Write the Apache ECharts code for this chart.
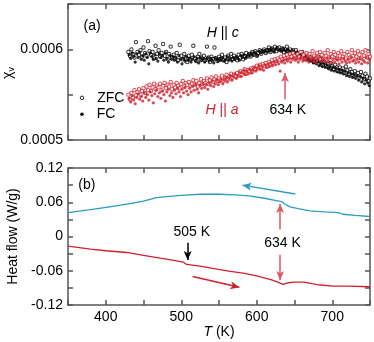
<!DOCTYPE html>
<html>
<head>
<meta charset="utf-8">
<script src="https://cdn.jsdelivr.net/npm/echarts@6/dist/echarts.min.js"></script>
<style>
  * { margin: 0; padding: 0; }
  #chart { width: 374px; height: 342px; background: #fff; }
</style>
</head>
<body>
<div id="chart"></div>
<script>
// (a) susceptibility. Temperatures (K) of the ZFC and FC sweeps
var tempZFC = [430,432,434,436,438,440,442,444,446,448,450,452,454,456,458,460,462,464,466,468,
  470,472,474,476,478,480,482,484,486,488,490,492,494,496,498,500,502,504,506,508,
  510,512,514,516,518,520,522,524,526,528,530,532,534,536,538,540,542,544,546,548,
  550,552,554,556,558,560,562,564,566,568,570,572,574,576,578,580,582,584,586,588,
  590,592,594,596,598,600,602,604,606,608,610,612,614,616,618,620,622,624,626,628,
  630,632,634,636,638,640,642,644,646,648,650,652,654,656,658,660,662,664,666,668,
  670,672,674,676,678,680,682,684,686,688,690,692,694,696,698,700,702,704,706,708,
  710,712,714,716,718,720,722,724,726,728,730,732,734,736,738,740,742,744,746,748,750];
var tempFC = [431,433,435,437,439,441,443,445,447,449,451,453,455,457,459,461,463,465,467,469,
  471,473,475,477,479,481,483,485,487,489,491,493,495,497,499,501,503,505,507,509,
  511,513,515,517,519,521,523,525,527,529,531,533,535,537,539,541,543,545,547,549,
  551,553,555,557,559,561,563,565,567,569,571,573,575,577,579,581,583,585,587,589,
  591,593,595,597,599,601,603,605,607,609,611,613,615,617,619,621,623,625,627,629,
  631,633,635,637,639,641,643,645,647,649,651,653,655,657,659,661,663,665,667,669,
  671,673,675,677,679,681,683,685,687,689,691,693,695,697,699,701,703,705,707,709,
  711,713,715,717,719,721,723,725,727,729,731,733,735,737,739,741,743,745,747,749];

// chi_v in units of 1e-4
var chiC_zfc = [5.97,5.93,6.00,5.95,5.91,6.08,5.97,5.94,5.99,5.92, 6.02,5.96,5.93,6.09,5.98,5.94,5.97,5.90,6.04,5.95,
  5.99,5.92,5.96,6.06,5.93,5.97,5.89,5.95,6.03,5.91, 5.94,5.90,5.96,5.88,6.05,5.93,5.89,5.95,5.91,5.86,
  5.93,5.89,5.94,6.04,5.90,5.87,5.92,5.95,5.88,5.91, 5.93,5.88,6.03,5.91,5.86,5.92,5.89,6.02,5.90,5.87,
  5.92,5.89,5.94,5.88,5.91,5.86,5.93,5.90,5.95,5.89, 5.93,5.90,5.88,5.94,5.91,5.95,5.89,5.93,5.96,5.92,
  5.95,5.92,5.97,5.94,5.98,5.93,5.96,5.99,5.95,5.98, 6.00,5.96,5.99,6.02,5.97,6.01,5.99,6.03,5.98,6.01,
  6.02,5.99,6.01,5.97,6.00,6.03,5.98,6.00,5.96,5.99, 5.97,5.99,5.94,5.96,5.92,5.97,5.93,5.90,5.95,5.91,
  5.92,5.88,5.90,5.86,5.91,5.87,5.84,5.89,5.85,5.83, 5.86,5.82,5.84,5.79,5.85,5.81,5.78,5.83,5.80,5.76,
  5.80,5.76,5.79,5.74,5.81,5.77,5.73,5.78,5.75,5.71, 5.76,5.72,5.74,5.69,5.75,5.71,5.67,5.73,5.70,5.65, 5.68];
var chiC_fc = [5.94,5.90,5.96,5.92,5.86,5.95,5.91,5.97,5.89,5.93, 5.88,5.95,5.91,5.84,5.96,5.92,5.89,5.94,5.90,5.87,
  5.95,5.91,5.93,5.88,5.96,5.90,5.86,5.93,5.89,5.92, 5.88,5.91,5.86,5.93,5.89,5.84,5.90,5.87,5.92,5.88,
  5.90,5.86,5.89,5.92,5.87,5.90,5.85,5.91,5.88,5.90, 5.86,5.89,5.91,5.87,5.90,5.88,5.85,5.91,5.89,5.87,
  5.90,5.88,5.91,5.87,5.89,5.92,5.88,5.90,5.87,5.91, 5.89,5.92,5.90,5.88,5.93,5.91,5.94,5.90,5.92,5.95,
  5.93,5.96,5.94,5.97,5.95,5.93,5.98,5.96,5.99,5.97, 5.99,5.97,6.00,5.98,6.01,5.99,5.97,6.00,6.02,5.99,
  6.00,5.98,6.01,5.99,5.97,6.00,5.98,5.96,5.99,5.97, 5.95,5.97,5.93,5.95,5.91,5.94,5.90,5.92,5.88,5.91,
  5.87,5.90,5.85,5.88,5.84,5.86,5.82,5.85,5.81,5.84, 5.80,5.83,5.79,5.81,5.77,5.80,5.76,5.79,5.75,5.78,
  5.74,5.77,5.73,5.76,5.71,5.74,5.70,5.73,5.69,5.72, 5.68,5.71,5.66,5.70,5.64,5.68,5.62,5.66,5.63,5.60];
var chiA_zfc = [5.50,5.45,5.52,5.47,5.55,5.49,5.53,5.56,5.50,5.54, 5.57,5.52,5.59,5.55,5.61,5.54,5.58,5.62,5.56,5.60,
  5.58,5.62,5.55,5.60,5.63,5.57,5.61,5.59,5.64,5.56, 5.61,5.58,5.63,5.60,5.57,5.62,5.65,5.59,5.63,5.61,
  5.64,5.60,5.62,5.66,5.61,5.65,5.59,5.63,5.67,5.62, 5.65,5.63,5.68,5.62,5.66,5.69,5.64,5.67,5.70,5.65,
  5.68,5.66,5.71,5.65,5.69,5.72,5.67,5.70,5.73,5.69, 5.72,5.70,5.74,5.71,5.76,5.72,5.75,5.78,5.73,5.77,
  5.76,5.79,5.75,5.80,5.78,5.82,5.79,5.83,5.80,5.84, 5.82,5.85,5.81,5.86,5.84,5.88,5.85,5.89,5.87,5.90,
  5.88,5.92,5.89,5.93,5.90,5.94,5.91,5.95,5.92,5.96, 5.93,5.90,5.95,5.92,5.97,5.91,5.94,5.89,5.96,5.93,
  5.95,5.91,5.98,5.93,5.90,5.96,5.92,5.97,5.94,5.90, 5.96,5.93,5.99,5.91,5.95,5.92,5.97,5.94,5.90,5.96,
  5.93,5.98,5.92,5.95,5.90,5.97,5.94,5.91,5.99,5.93, 5.96,5.92,5.98,5.94,5.90,5.97,5.93,5.99,5.91,5.95, 5.92];
var chiA_fc = [5.46,5.42,5.49,5.44,5.40,5.47,5.51,5.45,5.48,5.43, 5.52,5.47,5.50,5.44,5.53,5.49,5.41,5.51,5.55,5.48,
  5.52,5.46,5.54,5.50,5.43,5.53,5.56,5.49,5.52,5.47, 5.55,5.51,5.57,5.53,5.48,5.56,5.52,5.58,5.54,5.50,
  5.57,5.53,5.59,5.55,5.61,5.56,5.52,5.60,5.57,5.62, 5.58,5.61,5.56,5.63,5.60,5.65,5.59,5.62,5.66,5.61,
  5.64,5.67,5.62,5.66,5.69,5.64,5.68,5.71,5.66,5.70, 5.73,5.68,5.71,5.75,5.70,5.74,5.77,5.72,5.76,5.73,
  5.78,5.74,5.77,5.80,5.76,5.79,5.82,5.78,5.81,5.77, 5.83,5.80,5.84,5.81,5.85,5.82,5.86,5.83,5.87,5.84,
  5.76,5.86,5.88,5.85,5.89,5.87,5.90,5.86,5.89,5.91, 5.88,5.90,5.86,5.89,5.91,5.87,5.90,5.88,5.92,5.86,
  5.89,5.91,5.87,5.90,5.85,5.89,5.92,5.87,5.90,5.88, 5.86,5.90,5.87,5.91,5.85,5.89,5.86,5.90,5.88,5.84,
  5.89,5.86,5.90,5.87,5.85,5.89,5.86,5.91,5.87,5.88, 5.85,5.89,5.86,5.90,5.84,5.88,5.86,5.91,5.85,5.89];

// (b) heat flow (W/g), [T, value]
var heatCooling = [[350,0.042],[380,0.047],[405,0.052],[430,0.057],[450,0.062],[467,0.068],[480,0.070],[500,0.072],
  [525,0.074],[550,0.074],[570,0.073],[590,0.071],[610,0.067],[626,0.063],[633,0.061],[638,0.056],[644,0.052],
  [655,0.049],[670,0.045],[690,0.043],[708,0.042],[714,0.039],[730,0.037],[750,0.035]];
var heatHeating = [[350,-0.017],[380,-0.022],[400,-0.025],[428,-0.028],[450,-0.033],[472,-0.038],[490,-0.042],
  [503,-0.045],[507,-0.049],[525,-0.052],[538,-0.055],[551,-0.058],[565,-0.061],[582,-0.064],[600,-0.069],
  [622,-0.077],[635,-0.084],[642,-0.081],[650,-0.080],[662,-0.080],[675,-0.083],[684,-0.085],[701,-0.087],
  [720,-0.087],[750,-0.088]];

var FONT = 'Liberation Sans';
var AXIS_COLOR = '#555';
var RED = '#d0202c';
var BLUE = '#2a9cc0';
var ARROW_RED = '#dc5864';

function pairs(ts, vs) {
  return vs.map(function (v, i) { return [ts[i], v]; });
}

function xAx(grid, pos, labels) {
  return {
    type: 'value', gridIndex: grid, position: pos, min: 350, max: 750, interval: 50,
    axisLine: { onZero: false, lineStyle: { color: AXIS_COLOR, width: 1.5 } },
    axisTick: { inside: true, length: 5, lineStyle: { color: AXIS_COLOR, width: 1.5 } },
    axisLabel: {
      show: labels, color: '#000', fontSize: 14, fontFamily: FONT, margin: 5,
      formatter: function (v) { return (v % 100 === 0) ? String(v) : ''; }
    },
    splitLine: { show: false }
  };
}
function yAx(grid, pos, min, max, step, fmt) {
  return {
    type: 'value', gridIndex: grid, position: pos, min: min, max: max, interval: step,
    axisLine: { onZero: false, lineStyle: { color: AXIS_COLOR, width: 1.5 } },
    axisTick: { inside: true, length: 5, lineStyle: { color: AXIS_COLOR, width: 1.5 } },
    axisLabel: { show: !!fmt, color: '#000', fontSize: 14, fontFamily: FONT, margin: 5, formatter: fmt },
    splitLine: { show: false }
  };
}

var yA = yAx(0, 'left', 5, 6.5, 0.5, function (v) {
  if (Math.abs(v - 5) < 1e-9) return '0.0005';
  if (Math.abs(v - 6) < 1e-9) return '0.0006';
  return '';
});

var yB = yAx(1, 'left', -0.12, 0.12, 0.03, function (v) {
  var k = Math.round(v / 0.06);
  if (Math.abs(k * 0.06 - v) > 1e-9) return '';
  if (k === 0) return '0';
  return (k * 0.06).toFixed(2);
});
yB.name = 'Heat flow (W/g)';
yB.nameLocation = 'middle';
yB.nameRotate = 90;
yB.nameGap = 43;
yB.nameTextStyle = { color: '#000', fontSize: 14, fontFamily: FONT };

var xB = xAx(1, 'bottom', true);
xB.name = '{i|T} (K)';
xB.nameLocation = 'middle';
xB.nameGap = 20;
xB.nameTextStyle = { color: '#000', fontSize: 14, fontFamily: FONT,
  rich: { i: { fontStyle: 'italic', fontSize: 14, fontFamily: FONT, color: '#000' } } };

function txt(x, y, s, color, rich) {
  return { coord: [x, y], value: 0,
    label: { formatter: s, color: color || '#000', rich: rich } };
}
function arrow(x1, y1, x2, y2, color) {
  return [{ coord: [x1, y1], lineStyle: { color: color } }, { coord: [x2, y2] }];
}
var italic = function (color) {
  return { i: { fontStyle: 'italic', fontSize: 14, fontFamily: FONT, color: color } };
};

var markA = {
  symbol: 'circle', symbolSize: 0, silent: true,
  label: { show: true, position: 'inside', fontSize: 14, fontFamily: FONT, color: '#000' },
  data: [
    txt(382, 6.26, '(a)'),
    txt(555, 6.175, '{i|H} || {i|c}', '#000', italic('#000')),
    txt(554, 5.33, '{i|H} || {i|a}', RED, italic(RED)),
    txt(641, 5.33, '634 K'),
    // legend
    { coord: [368.5, 5.465], value: 0, symbol: 'circle', symbolSize: 3.5,
      itemStyle: { color: '#fff', borderColor: '#222', borderWidth: 1 },
      label: { formatter: 'ZFC', position: 'right', distance: 13, color: '#000' } },
    { coord: [368.5, 5.285], value: 0, symbol: 'circle', symbolSize: 3.5,
      itemStyle: { color: '#000' },
      label: { formatter: 'FC', position: 'right', distance: 13, color: '#000' } }
  ]
};
var lineA = {
  symbol: ['none', 'arrow'], symbolSize: [6, 9], silent: true,
  label: { show: false },
  lineStyle: { type: 'solid', width: 1.5, color: ARROW_RED },
  data: [arrow(637.4, 5.45, 637.4, 5.74, ARROW_RED)]
};
var markB = {
  symbol: 'circle', symbolSize: 0, silent: true,
  label: { show: true, position: 'inside', fontSize: 14, fontFamily: FONT, color: '#000' },
  data: [
    txt(375, 0.090, '(b)'),
    txt(514, 0.0084, '505 K'),
    txt(634, -0.011, '634 K')
  ]
};
var lineB = {
  symbol: ['none', 'arrow'], symbolSize: [6, 9], silent: true,
  label: { show: false },
  lineStyle: { type: 'solid', width: 1.5 },
  data: [
    arrow(508.5, -0.011, 508.5, -0.041, '#000'),
    arrow(631, 0.0126, 631, 0.057, ARROW_RED),
    arrow(631, -0.032, 631, -0.076, ARROW_RED),
    arrow(651, 0.0745, 581, 0.090, BLUE),
    arrow(515, -0.070, 577, -0.089, RED)
  ]
};

var hollow = function (c) {
  return { symbol: 'circle', symbolSize: 3.4, itemStyle: { color: '#fff', borderColor: c, borderWidth: 1 } };
};

var chart = echarts.init(document.getElementById('chart'), null, { renderer: 'canvas' });
chart.setOption({
  animation: false,
  backgroundColor: '#fff',
  grid: [
    { left: 68, top: 4, width: 302, height: 136, containLabel: false, outerBoundsMode: 'none' },
    { left: 68, top: 168, width: 302, height: 137, containLabel: false, outerBoundsMode: 'none' }
  ],
  // y-axis title of panel (a): chi with subscript v
  graphic: [{
    type: 'text', x: 8, y: 73, rotation: Math.PI / 2, silent: true,
    style: {
      text: '{c|χ}{s|v}', align: 'center', verticalAlign: 'middle',
      rich: { c: { fontSize: 14, fontFamily: FONT, fill: '#000', lineHeight: 16 },
              s: { fontSize: 9, fontFamily: FONT, fill: '#000', lineHeight: 16, verticalAlign: 'bottom' } }
    }
  }],
  xAxis: [xAx(0, 'bottom', false), xAx(0, 'top', false), xB, xAx(1, 'top', false)],
  yAxis: [yA, yAx(0, 'right', 5, 6.5, 0.5, null), yB, yAx(1, 'right', -0.12, 0.12, 0.03, null)],
  series: [
    Object.assign({ type: 'scatter', name: 'c ZFC', xAxisIndex: 0, yAxisIndex: 0,
      data: pairs(tempZFC, chiC_zfc) }, hollow('#000')),
    { type: 'scatter', name: 'c FC', xAxisIndex: 0, yAxisIndex: 0, data: pairs(tempFC, chiC_fc),
      symbol: 'circle', symbolSize: 3.2, itemStyle: { color: '#000' } },
    Object.assign({ type: 'scatter', name: 'a ZFC', xAxisIndex: 0, yAxisIndex: 0,
      data: pairs(tempZFC, chiA_zfc) }, hollow(RED)),
    { type: 'scatter', name: 'a FC', xAxisIndex: 0, yAxisIndex: 0, data: pairs(tempFC, chiA_fc),
      symbol: 'circle', symbolSize: 3.2, itemStyle: { color: RED },
      markPoint: markA, markLine: lineA },
    { type: 'line', name: 'cooling', xAxisIndex: 2, yAxisIndex: 2, data: heatCooling,
      showSymbol: false, lineStyle: { color: BLUE, width: 1.3 } },
    { type: 'line', name: 'heating', xAxisIndex: 2, yAxisIndex: 2, data: heatHeating,
      showSymbol: false, lineStyle: { color: RED, width: 1.3 },
      markPoint: markB, markLine: lineB }
  ]
});
</script>
</body>
</html>
